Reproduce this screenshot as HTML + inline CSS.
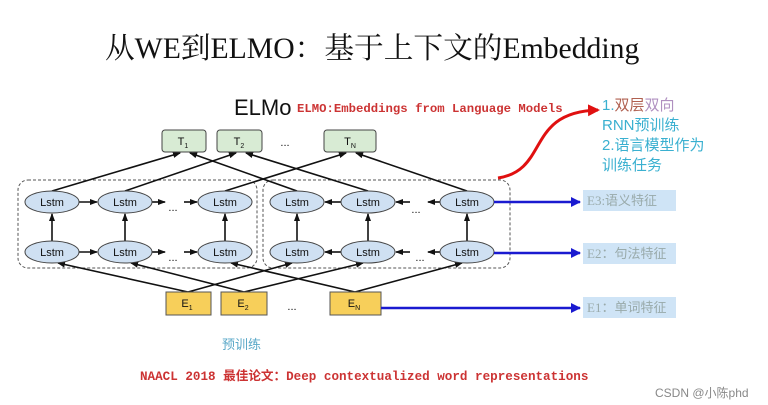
<!DOCTYPE html>
<html><head><meta charset="utf-8"><style>
body{margin:0;width:768px;height:405px;background:#fff;overflow:hidden;position:relative;font-family:"Liberation Sans","Noto Sans CJK SC",sans-serif}
.a{position:absolute;white-space:nowrap}
</style></head><body>
<div class="a" style="left:105px;top:25px;font:29.7px 'Liberation Serif','Noto Serif CJK SC',serif;color:#111">从WE到ELMO：基于上下文的Embedding</div>
<div class="a" style="left:234px;top:95px;font-size:22px;color:#111">ELMo</div>
<div class="a" style="left:297px;top:102px;font:12.3px 'Liberation Mono',monospace;font-weight:bold;color:#c33">ELMO:Embeddings from Language Models</div>
<div class="a" style="left:602px;top:96px;font-size:15px;line-height:20px;color:#3ab0d0">1.<span style="color:#b06050">双层</span><span style="color:#b090c0">双向</span><br>RNN预训练<br>2.语言模型作为<br>训练任务</div>
<div class="a" style="left:222px;top:334px;font-size:13px;color:#5aa8c8">预训练</div>
<div class="a" style="left:140px;top:365px;font:bold 12.6px 'Liberation Mono','Noto Sans CJK SC',monospace;color:#c33">NAACL 2018 最佳论文：Deep contextualized word representations</div>
<div class="a" style="left:655px;top:384px;font-size:12px;color:#888">CSDN @小陈phd</div>
<div class="a" style="left:583px;top:190px;width:93px;height:21px;background:#cfe4f6;color:#9aa;font:13px 'Liberation Serif','Noto Sans CJK SC',serif;line-height:21px;padding-left:4px;box-sizing:border-box">E3:语义特征</div>
<div class="a" style="left:583px;top:243px;width:93px;height:21px;background:#cfe4f6;color:#9aa;font:13px 'Liberation Serif','Noto Sans CJK SC',serif;line-height:21px;padding-left:4px;box-sizing:border-box">E2：句法特征</div>
<div class="a" style="left:583px;top:297px;width:93px;height:21px;background:#cfe4f6;color:#9aa;font:13px 'Liberation Serif','Noto Sans CJK SC',serif;line-height:21px;padding-left:4px;box-sizing:border-box">E1：单词特征</div>
<svg class="a" style="left:0;top:0" width="768" height="405" font-family="Liberation Sans,sans-serif">
<defs>
<marker id="k" markerWidth="8" markerHeight="8" refX="7" refY="4" orient="auto" markerUnits="userSpaceOnUse"><path d="M0,1L8,4L0,7z" fill="#111"/></marker>
<marker id="b" markerWidth="10" markerHeight="10" refX="9" refY="5" orient="auto" markerUnits="userSpaceOnUse"><path d="M0,0L10,5L0,10z" fill="#1a1ad0"/></marker>
<marker id="r" markerWidth="12" markerHeight="12" refX="10" refY="6" orient="auto" markerUnits="userSpaceOnUse"><path d="M0,0L12,6L0,12z" fill="#e01010"/></marker>
</defs>
<rect x="18" y="180" width="239" height="88" rx="10" fill="none" stroke="#555" stroke-dasharray="3,2"/>
<rect x="263" y="180" width="247" height="88" rx="10" fill="none" stroke="#555" stroke-dasharray="3,2"/>
<g stroke="#111" stroke-width="1.6" marker-end="url(#k)">
<line x1="52" y1="191" x2="180" y2="153"/><line x1="297" y1="191" x2="190" y2="153"/>
<line x1="125" y1="191" x2="236" y2="153"/><line x1="368" y1="191" x2="246" y2="153"/>
<line x1="225" y1="191" x2="346" y2="153"/><line x1="467" y1="191" x2="356" y2="153"/>
<line x1="188" y1="292" x2="58" y2="263"/><line x1="188" y1="292" x2="292" y2="263"/>
<line x1="244" y1="292" x2="131" y2="263"/><line x1="244" y1="292" x2="363" y2="263"/>
<line x1="355" y1="292" x2="231" y2="263"/><line x1="355" y1="292" x2="462" y2="263"/>
<line x1="52" y1="241" x2="52" y2="214"/><line x1="125" y1="241" x2="125" y2="214"/><line x1="225" y1="241" x2="225" y2="214"/>
<line x1="297" y1="241" x2="297" y2="214"/><line x1="368" y1="241" x2="368" y2="214"/><line x1="467" y1="241" x2="467" y2="214"/>
<line x1="79" y1="202" x2="97" y2="202"/><line x1="79" y1="252" x2="97" y2="252"/>
<line x1="152" y1="202" x2="165" y2="202"/><line x1="152" y1="252" x2="165" y2="252"/>
<line x1="184" y1="202" x2="197" y2="202"/><line x1="184" y1="252" x2="197" y2="252"/>
<line x1="341" y1="202" x2="325" y2="202"/><line x1="341" y1="252" x2="325" y2="252"/>
<line x1="410" y1="202" x2="396" y2="202"/><line x1="410" y1="252" x2="396" y2="252"/>
<line x1="440" y1="202" x2="428" y2="202"/><line x1="440" y1="252" x2="428" y2="252"/>
</g>
<g fill="#cfe0f2" stroke="#444">
<ellipse cx="52" cy="202" rx="27" ry="11"/><ellipse cx="125" cy="202" rx="27" ry="11"/><ellipse cx="225" cy="202" rx="27" ry="11"/>
<ellipse cx="297" cy="202" rx="27" ry="11"/><ellipse cx="368" cy="202" rx="27" ry="11"/><ellipse cx="467" cy="202" rx="27" ry="11"/>
<ellipse cx="52" cy="252" rx="27" ry="11"/><ellipse cx="125" cy="252" rx="27" ry="11"/><ellipse cx="225" cy="252" rx="27" ry="11"/>
<ellipse cx="297" cy="252" rx="27" ry="11"/><ellipse cx="368" cy="252" rx="27" ry="11"/><ellipse cx="467" cy="252" rx="27" ry="11"/>
</g>
<g font-size="11" text-anchor="middle" fill="#111">
<text x="52" y="206">Lstm</text><text x="125" y="206">Lstm</text><text x="225" y="206">Lstm</text>
<text x="297" y="206">Lstm</text><text x="368" y="206">Lstm</text><text x="467" y="206">Lstm</text>
<text x="52" y="256">Lstm</text><text x="125" y="256">Lstm</text><text x="225" y="256">Lstm</text>
<text x="297" y="256">Lstm</text><text x="368" y="256">Lstm</text><text x="467" y="256">Lstm</text>
<text x="173" y="211">...</text><text x="173" y="261">...</text><text x="416" y="213">...</text><text x="420" y="261">...</text>
<text x="285" y="146">...</text><text x="292" y="310">...</text>
</g>
<g fill="#d8ebd4" stroke="#444">
<rect x="162" y="130" width="44" height="22" rx="3"/><rect x="217" y="130" width="45" height="22" rx="3"/><rect x="324" y="130" width="52" height="22" rx="3"/>
</g>
<g fill="#f7cf5a" stroke="#555">
<rect x="166" y="292" width="45" height="23"/><rect x="221" y="292" width="46" height="23"/><rect x="330" y="292" width="51" height="23"/>
</g>
<g font-size="11" fill="#111" text-anchor="middle">
<text x="183" y="145">T<tspan font-size="7" dy="3">1</tspan></text><text x="239" y="145">T<tspan font-size="7" dy="3">2</tspan></text><text x="350" y="145">T<tspan font-size="7" dy="3">N</tspan></text>
<text x="187" y="307">E<tspan font-size="7" dy="3">1</tspan></text><text x="243" y="307">E<tspan font-size="7" dy="3">2</tspan></text><text x="354" y="307">E<tspan font-size="7" dy="3">N</tspan></text>
</g>
<g stroke="#1a1ad0" stroke-width="2.5" marker-end="url(#b)">
<line x1="494" y1="202" x2="580" y2="202"/><line x1="494" y1="253" x2="580" y2="253"/><line x1="381" y1="308" x2="580" y2="308"/>
</g>
<path d="M498,178 C550,170 525,112 598,110" fill="none" stroke="#e01010" stroke-width="3" marker-end="url(#r)"/>
</svg>
</body></html>
